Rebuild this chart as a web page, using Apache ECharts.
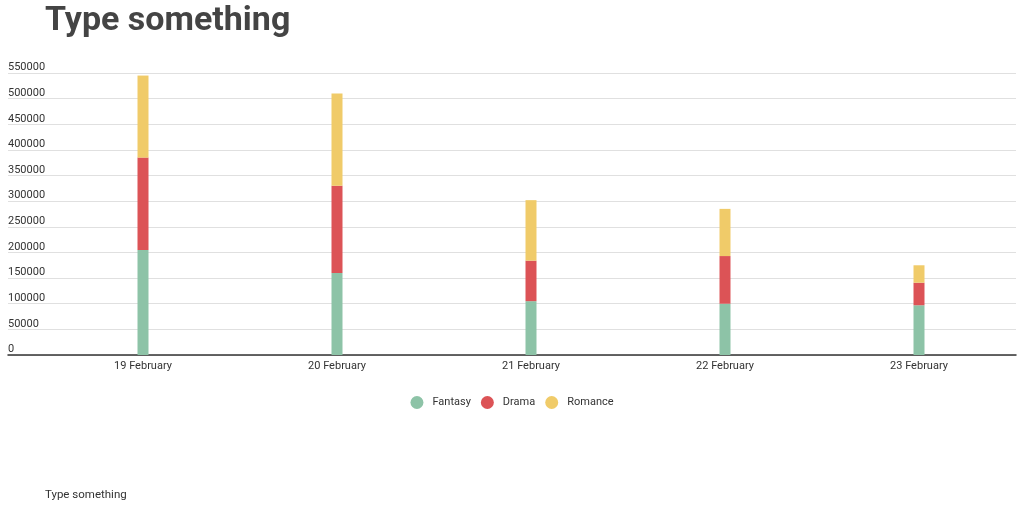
<!DOCTYPE html>
<html>
<head>
<meta charset="utf-8">
<script src="https://cdn.jsdelivr.net/npm/echarts@6/dist/echarts.min.js"></script>
<style>html,body{margin:0;padding:0;background:#fff}#c{width:1024px;height:512px}</style>
</head>
<body>
<div id="c"></div>
<script>
const categories = ['19 February', '20 February', '21 February', '22 February', '23 February'];
const fantasy = [205000, 160000, 105000, 100000, 97000];
const drama = [180000, 170000, 79000, 93000, 44000];
const romance = [160000, 180000, 118000, 92000, 34000];
const seriesNames = ['Fantasy', 'Drama', 'Romance'];
const colors = ['#8dc3a7', '#dc5356', '#f0cb69'];
const yMax = 550000, yInterval = 50000;

const chart = echarts.init(document.getElementById('c'));
const font = 'Roboto, sans-serif';
chart.setOption({
  animation: false,
  textStyle: { fontFamily: font },
  title: [
    { text: 'Type something', left: 40, top: -1, textStyle: { fontSize: 34, fontWeight: 'bold', color: '#444', fontFamily: font } },
    { text: 'Type something', left: 40, top: 484, textStyle: { fontSize: 11.5, fontWeight: 'normal', color: '#333', fontFamily: font } }
  ],
  legend: {
    data: seriesNames, top: 391, left: 'center', icon: 'circle', itemWidth: 13, itemHeight: 13, itemGap: 10,
    textStyle: { fontSize: 11, color: '#333', fontFamily: font, padding: [0, 0, 0, 4] }
  },
  grid: [
    { left: 8, right: 8, top: 73, bottom: 157 },
    { left: 46, right: 8, top: 73, bottom: 157 }
  ],
  xAxis: [
    { type: 'category', gridIndex: 0, data: [''], axisLine: { show: true, lineStyle: { color: '#333', width: 1.5 } }, axisTick: { show: false }, axisLabel: { show: false } },
    { type: 'category', gridIndex: 1, data: categories, axisLine: { show: false }, axisTick: { show: false },
      axisLabel: { fontSize: 11, color: '#333', margin: 6, fontFamily: font } }
  ],
  yAxis: [
    { type: 'value', gridIndex: 0, min: 0, max: yMax, interval: yInterval,
      axisLine: { show: false }, axisTick: { show: false },
      splitLine: { lineStyle: { color: '#e0e0e0', width: 1 } },
      axisLabel: { inside: true, align: 'left', verticalAlign: 'bottom', margin: 0, fontSize: 11, color: '#333', fontFamily: font,
        formatter: v => String(v) } },
    { type: 'value', gridIndex: 1, min: 0, max: yMax, interval: yInterval, show: false }
  ],
  series: [fantasy, drama, romance].map((d, i) => ({
    name: seriesNames[i], type: 'bar', stack: 'total', xAxisIndex: 1, yAxisIndex: 1,
    data: d, barWidth: 11, itemStyle: { color: colors[i] }
  }))
});
</script>
</body>
</html>
